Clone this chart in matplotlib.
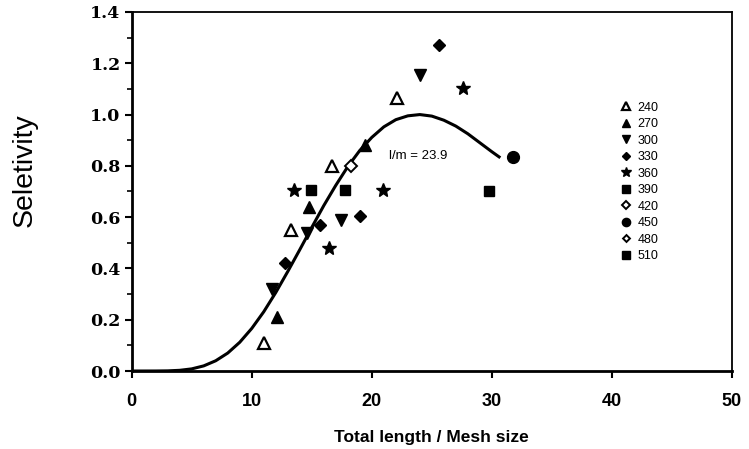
import numpy as np
import matplotlib.pyplot as plt
from matplotlib.ticker import MultipleLocator

# observed points per group (length / mesh, selectivity)
x240 = [11.0, 13.3, 16.7, 22.1]
y240 = [0.11, 0.55, 0.80, 1.065]
x270 = [12.1, 14.8, 19.4]
y270 = [0.21, 0.64, 0.88]
x300 = [11.7, 14.6, 17.4, 24.0]
y300 = [0.32, 0.54, 0.59, 1.155]
x330 = [12.8, 15.7, 19.0, 25.6]
y330 = [0.42, 0.57, 0.605, 1.27]
x360 = [13.5, 16.4, 20.9, 27.6]
y360 = [0.705, 0.48, 0.705, 1.105]
x390 = [14.9, 17.8]
y390 = [0.705, 0.705]
x420 = [18.25]
y420 = [0.80]
x450 = [31.75]
y450 = [0.835]
x480 = []
y480 = []
x510 = [29.8]
y510 = [0.70]

# fitted selectivity curve
curve_x = [0, 1, 2, 3, 4, 5, 6, 7, 8, 9, 10, 11, 12, 13, 14, 15, 16, 17,
           18, 19, 20, 21, 22, 23, 24, 25, 26, 27, 28, 29, 30, 30.6]
curve_y = [0.0, 0.0, 0.0001, 0.0006, 0.0027, 0.0083, 0.020, 0.040, 0.070,
           0.112, 0.166, 0.231, 0.306, 0.388, 0.473, 0.560, 0.645, 0.724,
           0.797, 0.860, 0.911, 0.952, 0.980, 0.995, 1.0, 0.994, 0.978,
           0.955, 0.925, 0.89, 0.855, 0.835]

fig = plt.figure(figsize=(7.49, 4.49), dpi=100)
ax = fig.add_axes([0.1758, 0.1737, 0.8015, 0.7996])

ax.plot(curve_x, curve_y, color='black', lw=2.2, zorder=2)

ms = dict(color='black', ls='none', zorder=3)
ax.plot(x240, y240, marker='^', ms=9, mfc='white', mec='black', mew=1.6, label='240', **ms)
ax.plot(x270, y270, marker='^', ms=9, label='270', **ms)
ax.plot(x300, y300, marker='v', ms=9, label='300', **ms)
ax.plot(x330, y330, marker='D', ms=6.5, label='330', **ms)
ax.plot(x360, y360, marker='*', ms=10.5, label='360', **ms)
ax.plot(x390, y390, marker='s', ms=7.5, label='390', **ms)
ax.plot(x420, y420, marker='D', ms=6.5, mfc='white', mec='black', mew=1.4, label='420', **ms)
ax.plot(x450, y450, marker='o', ms=8.5, label='450', **ms)
ax.plot(x480, y480, marker='D', ms=5, mfc='white', mec='black', mew=1.4, label='480', **ms)
ax.plot(x510, y510, marker='s', ms=7.5, label='510', **ms)

ax.text(21.4, 0.84, 'l/m = 23.9', fontsize=9.5, family='Liberation Sans',
        va='center', ha='left')

ax.set_xlim(0, 50)
ax.set_ylim(0, 1.4)
ax.xaxis.set_major_locator(MultipleLocator(10))
ax.yaxis.set_major_locator(MultipleLocator(0.2))
ax.yaxis.set_minor_locator(MultipleLocator(0.1))
ax.yaxis.set_major_formatter(lambda v, p: '%.1f' % v)

ax.tick_params(axis='both', which='major', direction='out', length=5, width=1.5)
ax.tick_params(axis='x', pad=11, labelsize=13, labelfontfamily='Liberation Sans')
ax.tick_params(axis='y', pad=3, labelsize=12.5, labelfontfamily='DejaVu Serif')
ax.tick_params(axis='y', which='minor', direction='out', length=3.5, width=1.2)
for lab in ax.get_yticklabels() + ax.get_xticklabels():
    lab.set_fontweight('bold')
for s in ax.spines.values():
    s.set_linewidth(1.3)
ax.spines['left'].set_linewidth(2)
ax.spines['bottom'].set_linewidth(2)

ax.set_xlabel('Total length / Mesh size', family='Liberation Sans', fontsize=12.5,
              fontweight='bold')
ax.xaxis.set_label_coords(0.5, -0.163)
ax.set_ylabel('Seletivity', family='Liberation Sans', fontsize=20.5)
ax.yaxis.set_label_coords(-0.156, 0.56)

leg = ax.legend(loc='upper left', bbox_to_anchor=(0.803, 0.768), frameon=False,
                prop={'family': 'Liberation Sans', 'size': 9},
                handlelength=1.0, handletextpad=0.4, labelspacing=0.36,
                borderpad=0, markerscale=0.7)

fig.savefig('out.png', dpi=100)
